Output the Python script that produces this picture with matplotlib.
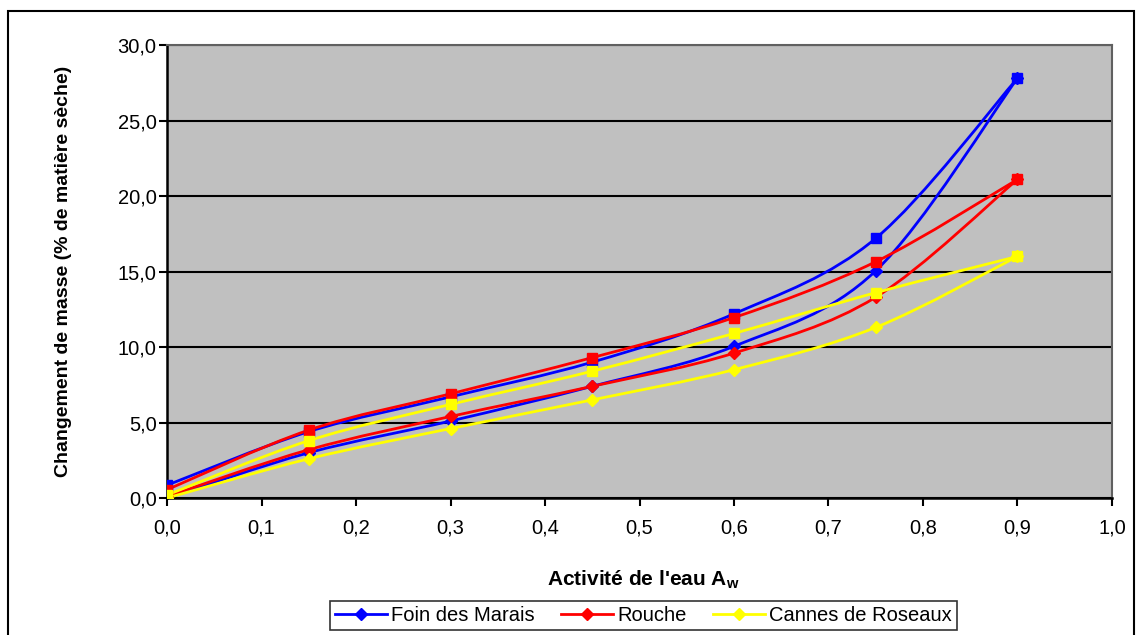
import numpy as np
import matplotlib
matplotlib.use("Agg")
import matplotlib.pyplot as plt
from matplotlib.path import Path
from matplotlib.patches import PathPatch, Rectangle
from matplotlib.lines import Line2D

plt.rcParams['font.family'] = ['Liberation Sans', 'DejaVu Sans']
plt.rcParams['mathtext.fontset'] = 'custom'
plt.rcParams['mathtext.rm'] = 'Liberation Sans'
plt.rcParams['mathtext.bf'] = 'Liberation Sans:bold'

# water activity steps
aw = [0.0, 0.15, 0.3, 0.45, 0.6, 0.75, 0.9]

# mass change (% dry matter): desorption (squares) / adsorption (diamonds)
foin_des = [0.85, 4.4, 6.7, 9.0, 12.2, 17.2, 27.8]
foin_ads = [0.0, 3.0, 5.1, 7.4, 10.05, 15.05, 27.8]
rouche_des = [0.55, 4.5, 6.9, 9.3, 11.95, 15.65, 21.1]
rouche_ads = [0.1, 3.2, 5.4, 7.4, 9.6, 13.3, 21.1]
cannes_des = [0.2, 3.8, 6.2, 8.4, 10.9, 13.6, 16.0]
cannes_ads = [0.0, 2.6, 4.6, 6.5, 8.5, 11.3, 16.0]

series = [
    ("Foin des Marais", "#0000FF", foin_des, foin_ads),
    ("Rouche", "#FF0000", rouche_des, rouche_ads),
    ("Cannes de Roseaux", "#FFFF00", cannes_des, cannes_ads),
]

y_ticks = [0, 5, 10, 15, 20, 25, 30]
x_ticks = [0.0, 0.1, 0.2, 0.3, 0.4, 0.5, 0.6, 0.7, 0.8, 0.9, 1.0]


def smooth_path(x, y):
    # Excel-style smoothed line: Catmull-Rom segments as cubic Beziers
    pts = np.column_stack([x, y])
    verts = [pts[0]]
    codes = [Path.MOVETO]
    n = len(pts)
    for i in range(n - 1):
        p0 = pts[i - 1] if i > 0 else pts[i]
        p1 = pts[i]
        p2 = pts[i + 1]
        p3 = pts[i + 2] if i + 2 < n else pts[i + 1]
        c1 = p1 + (p2 - p0) / 6.0
        c2 = p2 - (p3 - p1) / 6.0
        verts += [c1, c2, p2]
        codes += [Path.CURVE4] * 3
    return Path(verts, codes)


fig = plt.figure(figsize=(11.37, 6.35), dpi=100)
fig.patch.set_facecolor("white")
fig.patches.append(Rectangle((8 / 1137, -0.01), 1126 / 1137, 1.01 - 11 / 635,
                             transform=fig.transFigure, fill=False,
                             edgecolor="black", linewidth=1.5))

ax = fig.add_axes([0.1469, 0.2157, 0.8311, 0.7134])
ax.set_facecolor("#C0C0C0")

for name, col, des, ads in series:
    for yy, mk, ms in [(des, "s", 7), (ads, "D", 6.5)]:
        ax.add_patch(PathPatch(smooth_path(aw, yy), facecolor="none",
                               edgecolor=col, linewidth=2, zorder=3))
        ax.plot(aw, yy, linestyle="none", marker=mk, markersize=ms,
                color=col, zorder=4)

ax.set_xlim(0, 1.0)
ax.set_ylim(0, 30)
ax.set_xticks(x_ticks)
ax.set_yticks(y_ticks)
ax.set_xticklabels([f"{v:.1f}".replace(".", ",") for v in x_ticks])
ax.set_yticklabels([f"{v:.1f}".replace(".", ",") for v in y_ticks])
ax.tick_params(axis="both", labelsize=14.5, direction="out", length=5.5,
               width=1.5, color="black")
ax.tick_params(axis="y", pad=2)
ax.tick_params(axis="x", pad=9)
ax.grid(axis="y", color="black", linewidth=1.5, zorder=1)
ax.set_axisbelow(True)
for s in ["left", "bottom"]:
    ax.spines[s].set_color("black")
    ax.spines[s].set_linewidth(1.8)
for s in ["top", "right"]:
    ax.spines[s].set_color("#606060")
    ax.spines[s].set_linewidth(1.5)

fig.text(0.0555, 0.5724, "Changement de masse (% de matière sèche)",
         rotation=90, ha="center", va="center", fontsize=14, fontweight="bold")
fig.text(0.566, 0.0866, r"Activité de l'eau A$_\mathbf{w}$",
         ha="center", va="center", fontsize=15, fontweight="bold")

handles = [Line2D([0], [0], color=col, linewidth=2, marker="D", markersize=6)
           for _, col, _, _ in series]
leg = fig.legend(handles, [s[0] for s in series], loc="center",
                 bbox_to_anchor=(0.566, 0.031), ncol=3, fontsize=14.5,
                 frameon=True, fancybox=False, shadow=False,
                 handlelength=2.6, columnspacing=1.3, handletextpad=0.2,
                 borderpad=0.25)
leg.get_frame().set_edgecolor("black")
leg.get_frame().set_linewidth(1.2)

fig.savefig("out.png", dpi=100)
